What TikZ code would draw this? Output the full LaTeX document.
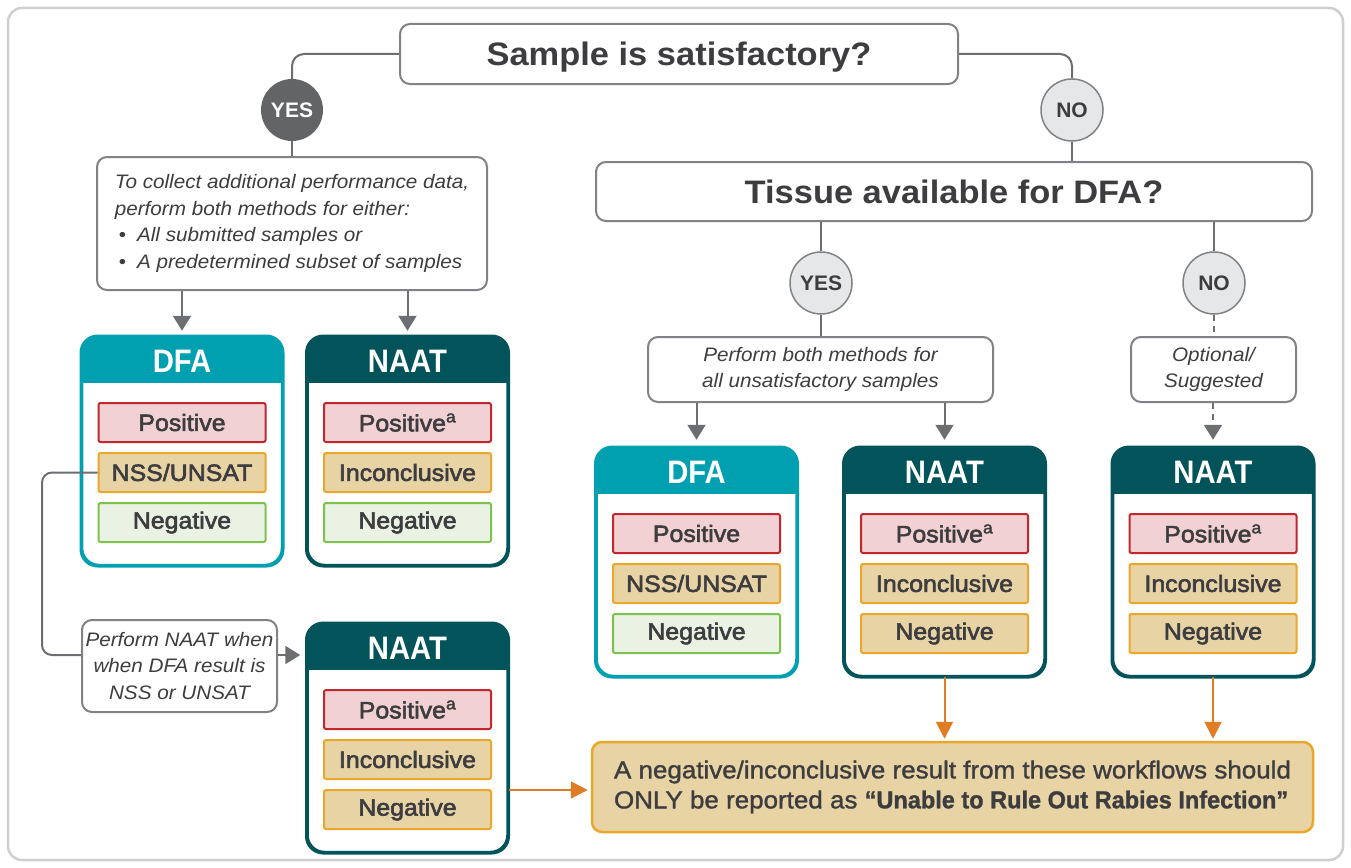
\documentclass[tikz,border=0pt]{standalone}
\usepackage{fontspec}
\setmainfont{Liberation Sans}[FakeStretch=1.06]
\newfontfamily\medfont{Liberation Sans}[FakeStretch=1.06,FakeBold=2.5]
\newfontfamily\resfont{Liberation Sans}[FakeStretch=1.06,FakeBold=1.3]
\newfontfamily\titfont{Liberation Sans Bold}[FakeStretch=0.9]
\newfontfamily\condbold{Liberation Sans Bold}[FakeStretch=0.96,FakeBold=1.2]
\newfontfamily\circfont{Liberation Sans Bold}[FakeStretch=1.0]
\usetikzlibrary{arrows.meta}
\definecolor{lineg}{HTML}{6D6E71}
\definecolor{boxg}{HTML}{808285}
\definecolor{outerg}{HTML}{CFCFCF}
\definecolor{darkc}{HTML}{636466}
\definecolor{lightc}{HTML}{E6E7E8}
\definecolor{txt}{HTML}{3D3D40}
\definecolor{teal}{HTML}{00A0B0}
\definecolor{dteal}{HTML}{03535A}
\definecolor{redb}{HTML}{C1272D}
\definecolor{redf}{HTML}{F2D1D4}
\definecolor{ambb}{HTML}{EAA72A}
\definecolor{ambf}{HTML}{E8D3A5}
\definecolor{grnb}{HTML}{7DC24F}
\definecolor{grnf}{HTML}{EAF3E3}
\definecolor{orng}{HTML}{E07C24}
\tikzset{
  conn/.style={draw=lineg, line width=2pt},
  garrow/.style={conn, -{Triangle[width=18pt,length=15pt]}},
  oarrow/.style={draw=orng, line width=2pt, -{Triangle[width=17pt,length=17pt]}},
  qbox/.style={draw=boxg, line width=2pt, rounded corners=10pt, fill=white, text=txt, inner sep=0pt, text depth=0pt},
  ibox/.style={draw=boxg, line width=2pt, rounded corners=10pt, fill=white, text=txt, inner sep=0pt,
     font=\itshape\fontsize{19.5}{26.5}\selectfont},
  darkcirc/.style={circle, fill=darkc, minimum size=62pt, inner sep=0pt, text=white, font=\circfont\fontsize{21}{21}\selectfont},
  lightcirc/.style={circle, fill=lightc, draw=boxg, line width=1.5pt, minimum size=62pt, inner sep=0pt, text=txt, font=\circfont\fontsize{21}{21}\selectfont},
  mbody/.style={rectangle, rounded corners=17pt, fill=white, line width=2.5pt, minimum width=200pt, minimum height=228pt, inner sep=0pt},
  mtitle/.style={text=white, font=\titfont\fontsize{32.5}{32}\selectfont, inner sep=0pt},
  lab/.style={rectangle, minimum width=167pt, minimum height=39pt, line width=2pt, rounded corners=2pt, inner sep=0pt, text=txt, font=\medfont\fontsize{23.5}{24}\selectfont},
  lpos/.style={lab, draw=redb, fill=redf},
  lamb/.style={lab, draw=ambb, fill=ambf},
  lneg/.style={lab, draw=grnb, fill=grnf},
  dashconn/.style={conn, dash pattern=on 6pt off 5pt},
}
\newcommand\methbox[5]{%
  \node[mbody, draw=#4] (#1) at (#2,#3+114) {};
  \begin{scope}
    \clip[rounded corners=17pt] (#1.north west) rectangle (#1.south east);
    \fill[#4] (#2-102,#3-2) rectangle (#2+102,#3+46);
  \end{scope}
  \draw[#4, line width=2.5pt, rounded corners=17pt] (#1.north west) rectangle (#1.south east);
  \node[mtitle] (#1-t) at (#2,#3+24) {#5};
}
\begin{document}
\begin{tikzpicture}[x=1pt,y=-1pt]
\useasboundingbox (0,0) rectangle (1351,867);
\fill[white] (0,0) rectangle (1351,867);
\draw[outerg, line width=2.5pt, rounded corners=14pt] (8,8) rectangle (1343,860);

% top question
\node[qbox, minimum width=558pt, minimum height=60pt, font=\bfseries\fontsize{32.5}{32}\selectfont] (q1) at (679,54) {Sample is satisfactory?};
\node[darkcirc] (yes1) at (292,110) {YES};
\node[lightcirc] (no1) at (1072,110) {NO};
\draw[conn, rounded corners=12pt] (q1.west) -| (yes1.north);
\draw[conn, rounded corners=12pt] (q1.east) -| (no1.north);

% left text box
\node[ibox, minimum width=390pt, minimum height=133pt, align=left] (t1) at (292,223.5)
  {To collect additional performance data,\\perform both methods for either:\\
   \hspace*{4pt}{\upshape\textbullet}\hspace{11pt}All submitted samples or\\
   \hspace*{4pt}{\upshape\textbullet}\hspace{11pt}A predetermined subset of samples};
\draw[conn] (yes1.south) -- (t1.north);

% left method boxes
\methbox{dfa1}{182}{337}{teal}{DFA}
\methbox{naat1}{407.5}{337}{dteal}{NAAT}
\node[lpos] (d1a) at (182,422.5) {Positive};
\node[lamb] (d1b) at (182,472.5) {NSS/UNSAT};
\node[lneg] (d1c) at (182,522.5) {Negative};
\node[lpos] (n1a) at (407.5,422.5) {Positive\textsuperscript{a}};
\node[lamb] (n1b) at (407.5,472.5) {Inconclusive};
\node[lneg] (n1c) at (407.5,522.5) {Negative};
\draw[garrow, shorten >=5pt] (dfa1.north |- t1.south) -- (dfa1.north);
\draw[garrow, shorten >=5pt] (naat1.north |- t1.south) -- (naat1.north);

% NSS path
\node[ibox, minimum width=195pt, minimum height=92pt, align=center] (pn) at (179.5,666)
  {Perform NAAT when\\when DFA result is\\NSS or UNSAT};
\methbox{naat3}{407.5}{624}{dteal}{NAAT}
\node[lpos] (n3a) at (407.5,709.5) {Positive\textsuperscript{a}};
\node[lamb] (n3b) at (407.5,759.5) {Inconclusive};
\node[lamb] (n3c) at (407.5,809.5) {Negative};
\coordinate (j) at (42,655);
\draw[conn, rounded corners=10pt] (d1b.west) -| (j) -- (j -| pn.west);
\draw[garrow, shorten >=6pt] (pn.east |- j) -- (naat3.west |- j);

% right side
\node[qbox, minimum width=716pt, minimum height=59pt, font=\bfseries\fontsize{32.5}{32}\selectfont] (q2) at (954,191.5) {Tissue available for DFA?};
\draw[conn] (no1.south) -- (no1.south |- q2.north);
\node[lightcirc] (yes2) at (821,283) {YES};
\node[lightcirc] (no2) at (1214,283) {NO};
\draw[conn] (yes2.north |- q2.south) -- (yes2.north);
\draw[conn] (no2.north |- q2.south) -- (no2.north);

\node[ibox, minimum width=345pt, minimum height=65pt, align=center] (p2) at (820.5,369.5)
  {Perform both methods for\\all unsatisfactory samples};
\node[ibox, minimum width=165pt, minimum height=65pt, align=center] (opt) at (1213.5,369.5)
  {Optional/\\Suggested};
\draw[conn] (yes2.south) -- (p2.north -| yes2.south);
\draw[dashconn] (no2.south) -- (opt.north -| no2.south);

\methbox{dfa2}{696.5}{448}{teal}{DFA}
\methbox{naat4}{944.5}{448}{dteal}{NAAT}
\methbox{naat5}{1213}{448}{dteal}{NAAT}
\node[lpos] (d2a) at (696.5,533.5) {Positive};
\node[lamb] (d2b) at (696.5,583.5) {NSS/UNSAT};
\node[lneg] (d2c) at (696.5,633.5) {Negative};
\node[lpos] (n4a) at (944.5,533.5) {Positive\textsuperscript{a}};
\node[lamb] (n4b) at (944.5,583.5) {Inconclusive};
\node[lamb] (n4c) at (944.5,633.5) {Negative};
\node[lpos] (n5a) at (1213,533.5) {Positive\textsuperscript{a}};
\node[lamb] (n5b) at (1213,583.5) {Inconclusive};
\node[lamb] (n5c) at (1213,633.5) {Negative};
\draw[garrow, shorten >=7pt] (dfa2.north |- p2.south) -- (dfa2.north);
\draw[garrow, shorten >=7pt] (naat4.north |- p2.south) -- (naat4.north);
\draw[garrow, dash pattern=on 6pt off 5pt, shorten >=7pt] (naat5.north |- opt.south) -- (naat5.north);

% result
\node[draw=ambb, fill=ambf, line width=2.5pt, rounded corners=10pt, minimum width=721pt, minimum height=90pt,
      inner sep=0pt, align=left, text=txt,
      font=\resfont\fontsize{24.5}{30}\selectfont] (res) at (952.5,787)
  {A negative/inconclusive result from these workflows should\\ONLY be reported as {\condbold “Unable to Rule Out Rabies Infection”}};
\draw[oarrow, shorten >=2pt] (naat4.south) -- (naat4.south |- res.north);
\draw[oarrow, shorten >=2pt] (naat5.south) -- (naat5.south |- res.north);
\draw[oarrow, shorten >=3pt] (naat3.east |- 0,790) -- (res.west |- 0,790);
\end{tikzpicture}
\end{document}
